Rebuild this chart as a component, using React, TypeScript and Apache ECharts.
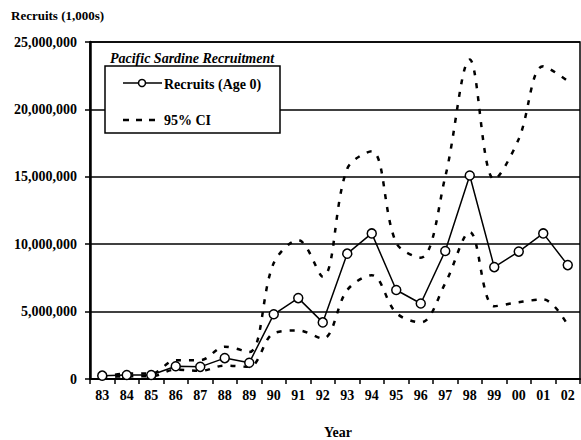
import React, { useEffect, useRef } from "react";
import * as echarts from "echarts";

const years = ["83","84","85","86","87","88","89","90","91","92","93","94","95","96","97","98","99","00","01","02"];
const recruits = [250000,300000,300000,950000,900000,1550000,1200000,4800000,6000000,4200000,9300000,10800000,6600000,5600000,9500000,15100000,8300000,9450000,10800000,8450000];
const upperCI = [150000,400000,400000,1400000,1400000,2400000,2000000,8600000,10300000,7600000,15600000,16900000,10100000,9000000,15000000,23700000,14800000,17800000,23200000,22100000];
const lowerCI = [100000,200000,200000,700000,600000,1000000,900000,3400000,3600000,3000000,6600000,7700000,4900000,4200000,7100000,10900000,5400000,5700000,5900000,4000000];
const yTicks = { min: 0, max: 25000000, interval: 5000000 };
const legendNames = ["Recruits (Age 0)", "95% CI"];

const FONT = "'Liberation Serif', 'Times New Roman', serif";

export default function App() {
  const ref = useRef<HTMLDivElement>(null);
  useEffect(() => {
    if (!ref.current) return;
    const chart = echarts.init(ref.current, null, { renderer: "svg" });
    const dashed = {
      type: "line",
      name: legendNames[1],
      symbol: "none",
      smooth: 0.35,
      lineStyle: { color: "#000", width: 2.5, type: [5, 8] },
      itemStyle: { color: "#000" },
      z: 2,
    };
    chart.setOption({
      animation: false,
      backgroundColor: "#fff",
      textStyle: { fontFamily: FONT },
      grid: {
        left: 90, right: 1, top: 42, bottom: 61,
        show: true, borderColor: "#000", borderWidth: 1.5,
      },
      xAxis: {
        type: "category",
        data: years,
        boundaryGap: true,
        axisLine: { lineStyle: { color: "#000", width: 2 } },
        axisTick: { show: true, inside: false, length: 5, lineStyle: { color: "#000", width: 1.5 } },
        axisLabel: { color: "#000", fontFamily: FONT, fontWeight: "bold", fontSize: 14, margin: 9 },
        splitLine: { show: false },
      },
      yAxis: {
        type: "value",
        min: yTicks.min,
        max: yTicks.max,
        interval: yTicks.interval,
        axisLine: { show: true, lineStyle: { color: "#000", width: 2.5 } },
        axisTick: { show: true, inside: false, length: 5, lineStyle: { color: "#000", width: 1.5 } },
        axisLabel: {
          color: "#000", fontFamily: FONT, fontWeight: "bold", fontSize: 14, margin: 13,
          formatter: (v: number) => v.toLocaleString("en-US"),
        },
        splitLine: { show: true, lineStyle: { color: "#000", width: 1.5 } },
      },
      graphic: [
        {
          type: "rect",
          z: 8,
          shape: { x: 105, y: 66, width: 175, height: 67 },
          style: { fill: "#fff", stroke: "#000", lineWidth: 1.5 },
        },
        {
          type: "line",
          z: 9,
          shape: { x1: 123, y1: 83, x2: 162, y2: 83 },
          style: { stroke: "#000", lineWidth: 1.5 },
        },
        {
          type: "circle",
          z: 10,
          shape: { cx: 142, cy: 83, r: 3.5 },
          style: { fill: "#fff", stroke: "#000", lineWidth: 1.5 },
        },
        {
          type: "text",
          z: 10,
          x: 164,
          y: 84,
          style: {
            text: legendNames[0],
            fill: "#000",
            font: `bold 14px ${FONT}`,
            align: "left",
            verticalAlign: "middle",
          },
        },
        {
          type: "line",
          z: 9,
          shape: { x1: 123, y1: 120, x2: 161, y2: 120 },
          style: { stroke: "#000", lineWidth: 2.5, lineDash: [6, 7] },
        },
        {
          type: "text",
          z: 10,
          x: 164,
          y: 120,
          style: {
            text: legendNames[1],
            fill: "#000",
            font: `bold 14px ${FONT}`,
            align: "left",
            verticalAlign: "middle",
          },
        },
        {
          type: "text",
          z: 9,
          x: 192,
          y: 58,
          style: {
            text: "Pacific Sardine Recruitment",
            fill: "#000",
            font: `italic bold 14px ${FONT}`,
            align: "center",
            verticalAlign: "middle",
          },
        },
        {
          type: "text",
          x: 11,
          y: 15,
          style: {
            text: "Recruits (1,000s)",
            fill: "#000",
            font: `bold 13px ${FONT}`,
            align: "left",
            verticalAlign: "middle",
          },
        },
        {
          type: "text",
          x: 338,
          y: 432,
          style: {
            text: "Year",
            fill: "#000",
            font: `bold 14px ${FONT}`,
            align: "center",
            verticalAlign: "middle",
          },
        },
      ],
      series: [
        { ...dashed, data: upperCI },
        { ...dashed, data: lowerCI },
        {
          type: "line",
          name: legendNames[0],
          data: recruits,
          symbol: "circle",
          symbolSize: 9,
          showSymbol: true,
          lineStyle: { color: "#000", width: 1.5 },
          itemStyle: { color: "#fff", borderColor: "#000", borderWidth: 1.5 },
          z: 3,
        },
      ],
    });
    return () => chart.dispose();
  }, []);
  return <div ref={ref} style={{ width: 581, height: 440, position: "absolute", left: 0, top: 0 }} />;
}
